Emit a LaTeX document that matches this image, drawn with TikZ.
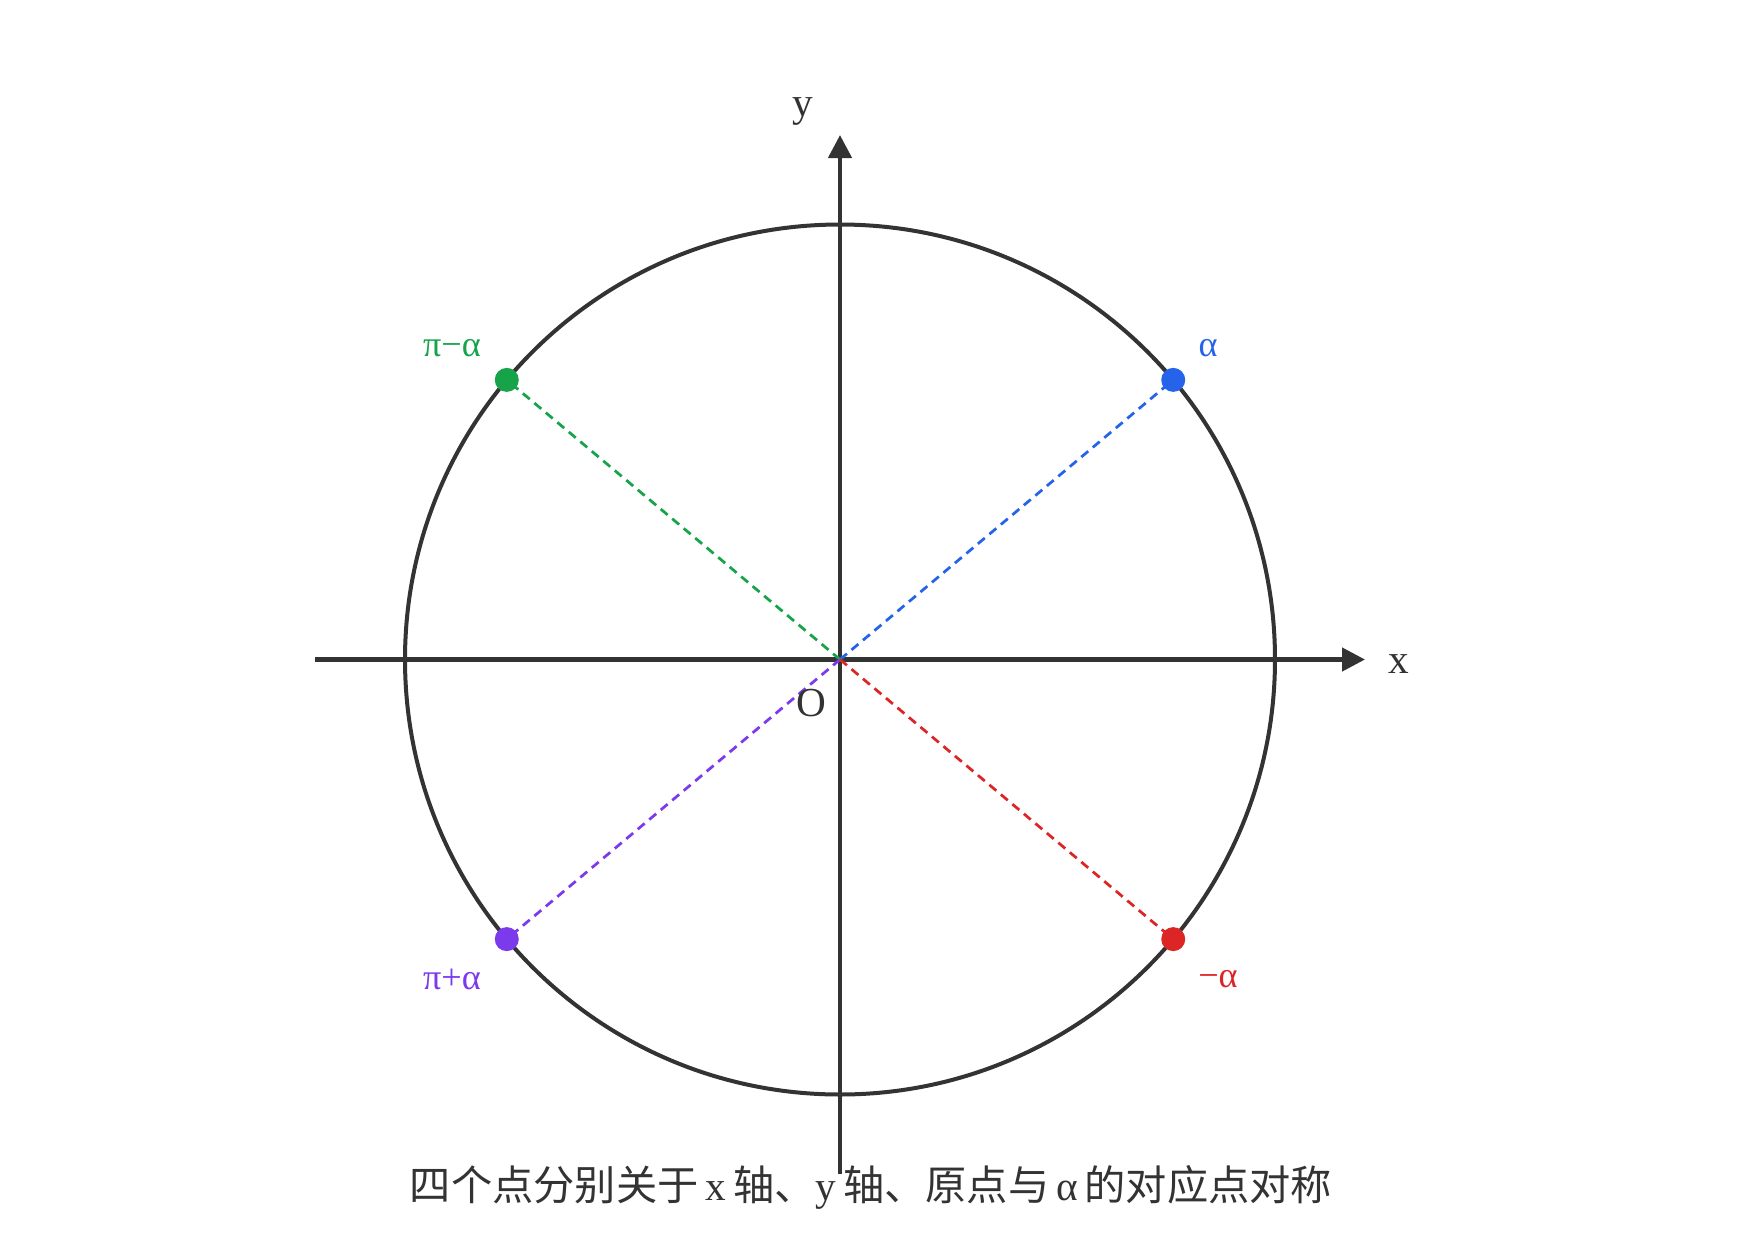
\documentclass[tikz,border=0pt]{standalone}
\usepackage{fontspec}
\setmainfont{Liberation Serif}
\newfontfamily\cjk{Noto Sans CJK SC}
\usetikzlibrary{arrows.meta}
\definecolor{ink}{HTML}{333333}
\definecolor{cblue}{HTML}{2563EB}
\definecolor{cgreen}{HTML}{16A34A}
\definecolor{cpurple}{HTML}{7C3AED}
\definecolor{cred}{HTML}{DC2626}
\begin{document}
\begin{tikzpicture}[x=0.4pt,y=-0.4pt,
  axis/.style={draw=ink,line width=1.8pt,-{Triangle[length=9.2pt,width=9.2pt]}},
  ray/.style={line width=1.1pt,dash pattern=on 3.6pt off 2.4pt},
  dot/.style={circle,fill=#1,inner sep=0pt,minimum size=9.6pt},
  axlabel/.style={text=ink,font=\fontsize{16.5}{18}\selectfont,inner sep=0pt},
  ptlabel/.style={text=#1,font=\fontsize{14.5}{16}\selectfont,inner sep=0pt}]
\useasboundingbox (0,0) rectangle (1740,1260);
\coordinate (O) at (840,659.5);
\coordinate (xs) at (315,659.5);
\coordinate (xe) at (1365,659.5);
\coordinate (ys) at (840,1174);
\coordinate (ye) at (840,135);
\draw[ink,line width=1.6pt] (O) circle[radius=435];
\draw[axis] (xs) -- (xe);
\draw[axis] (ys) -- (ye);
\path (O) ++(-40:435) coordinate (pa);
\path (O) ++(-140:435) coordinate (pb);
\path (O) ++(140:435) coordinate (pc);
\path (O) ++(40:435) coordinate (pd);
\draw[ray,cblue] (O) -- (pa);
\draw[ray,cgreen] (O) -- (pb);
\draw[ray,cpurple] (O) -- (pc);
\draw[ray,cred] (O) -- (pd);
\node[dot=cblue] (na) at (pa) {};
\node[dot=cgreen] (nb) at (pb) {};
\node[dot=cpurple] (nc) at (pc) {};
\node[dot=cred] (nd) at (pd) {};
\node[ptlabel=cblue] (la) at (1208,348) {α};
\node[ptlabel=cgreen] (lb) at (452,348) {π−α};
\node[ptlabel=cpurple] (lc) at (452,979) {π+α};
\node[ptlabel=cred] (ld) at (1218,979) {−α};
\node[axlabel] (lx) at (1399,664) {x};
\node[axlabel] (ly) at (803,111) {y};
\node[axlabel] (lo) at (811,703) {O};
\node[text=ink,font=\fontsize{16.5}{18}\selectfont,inner sep=0pt] (cap) at (871,1187)
  {{\cjk 四个点分别关于}\,x\,{\cjk 轴、}y\,{\cjk 轴、原点与}\,α\,{\cjk 的对应点对称}};
\end{tikzpicture}
\end{document}
